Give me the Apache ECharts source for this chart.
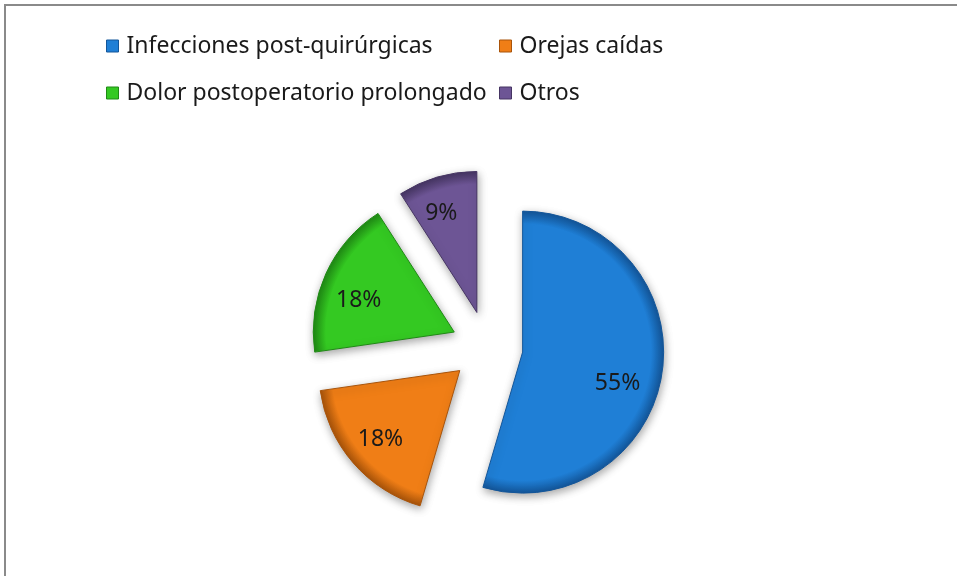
<!DOCTYPE html>
<html>
<head>
<meta charset="utf-8">
<script src="https://cdn.jsdelivr.net/npm/echarts@6/dist/echarts.min.js"></script>
<style>
html,body{margin:0;padding:0;background:#fff;}
#chart{width:957px;height:576px;}
</style>
</head>
<body>
<div id="chart"></div>
<script>
// Data
const categories = ['Infecciones post-quirúrgicas', 'Orejas caídas', 'Dolor postoperatorio prolongado', 'Otros'];
const values = [6, 2, 2, 1];
const percentLabels = ['55%', '18%', '18%', '9%'];

// Styles / layout (kept separate from data)
const colors = ['#1f7fd6', '#f07e16', '#34c922', '#6d5595'];
const edgeColors = ['#13569a', '#a9540a', '#1f8a14', '#463563'];
// label nudges: horizontal via padding [top, right, bottom, left], vertical via blank first line
const labelPads = [[0, 18, 0, 0], [0, 0, 0, 0], [0, 0, 0, 0], [0, 12, 0, 0]];
const labelShiftDown = [32, 0, 24, 4];
const legendPos = [
  { left: 106, top: 34 },
  { left: 499, top: 34 },
  { left: 106, top: 81 },
  { left: 499, top: 81 }
];

const CX = 487, CY = 347, R = 141, OFFSET = 36;
const FONT = 'Noto Sans';

function fill(i) {
  return {
    type: 'radial', global: true, x: CX, y: CY, r: R,
    colorStops: [
      { offset: 0, color: colors[i] },
      { offset: 0.91, color: colors[i] },
      { offset: 1, color: edgeColors[i] }
    ]
  };
}

const pieData = categories.map((name, i) => ({
  name: name,
  value: values[i],
  selected: true,
  itemStyle: { color: fill(i), borderColor: edgeColors[i], borderWidth: 1 }
}));

const labelData = categories.map((name, i) => {
  const shift = labelShiftDown[i];
  const label = { padding: labelPads[i] };
  if (shift > 0) {
    label.formatter = '\n' + percentLabels[i];
    label.lineHeight = shift;
  } else {
    label.formatter = percentLabels[i];
  }
  return { name: name, value: values[i], selected: true, label: label };
});

const legends = categories.map((name, i) => ({
  data: [{ name: name, itemStyle: { color: colors[i], borderColor: edgeColors[i], borderWidth: 1 } }],
  left: legendPos[i].left,
  top: legendPos[i].top,
  orient: 'horizontal',
  icon: 'rect',
  itemWidth: 12,
  itemHeight: 12,
  itemGap: 0,
  padding: 0,
  selectedMode: false,
  textStyle: { fontFamily: FONT, fontSize: 23, lineHeight: 24, color: '#1a1a1a', padding: [0, 0, 0, 3] }
}));

const chart = echarts.init(document.getElementById('chart'), null, { renderer: 'canvas' });
chart.setOption({
  backgroundColor: '#ffffff',
  animation: false,
  color: colors,
  graphic: [{
    type: 'rect', silent: true,
    shape: { x: 5, y: 5, width: 1100, height: 1100 },
    style: { fill: 'none', stroke: '#8a8a8a', lineWidth: 2 }
  }],
  legend: legends,
  series: [
    {
      type: 'pie',
      center: [CX, CY],
      radius: [0, R],
      startAngle: 90,
      clockwise: true,
      selectedMode: 'multiple',
      selectedOffset: OFFSET,
      avoidLabelOverlap: false,
      label: { show: false },
      labelLine: { show: false },
      emphasis: { disabled: true },
      itemStyle: {
        shadowBlur: 8,
        shadowOffsetX: 1,
        shadowOffsetY: 3,
        shadowColor: 'rgba(0,0,0,0.35)'
      },
      data: pieData
    },
    {
      type: 'pie',
      center: [CX, CY],
      radius: [63, R],
      startAngle: 90,
      clockwise: true,
      selectedMode: 'multiple',
      selectedOffset: OFFSET,
      silent: true,
      avoidLabelOverlap: false,
      itemStyle: { color: 'rgba(0,0,0,0)' },
      label: {
        show: true,
        position: 'inside',
        fontFamily: FONT,
        fontSize: 23,
        color: '#1a1a1a'
      },
      labelLine: { show: false },
      emphasis: { disabled: true },
      data: labelData
    }
  ]
});
</script>
</body>
</html>
